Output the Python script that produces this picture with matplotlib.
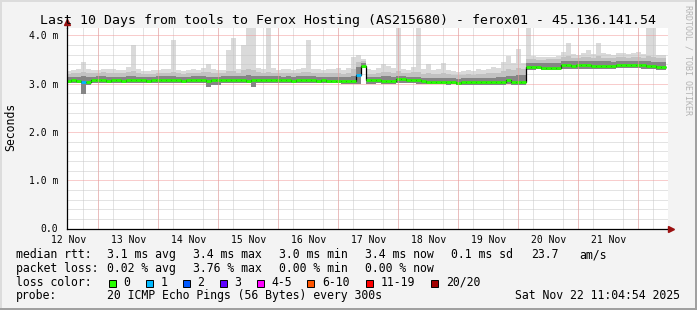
import matplotlib
matplotlib.use("Agg")
import matplotlib.pyplot as plt
from matplotlib.patches import Rectangle
import numpy as np

plt.rcParams['font.family'] = ['DejaVu Sans Mono']

# --- data: 120 bins of 2 hours, hours counted from 12 Nov 00:00 ---
t_start = 11.08
bin_hours = 2.0

# median rtt (ms)
med = [3.06, 3.07, 3.06, 3.03, 3.04, 3.07, 3.08, 3.07, 3.06, 3.07,
       3.07, 3.06, 3.07, 3.08, 3.07, 3.07, 3.06, 3.07, 3.08, 3.07,
       3.08, 3.07, 3.07, 3.06, 3.07, 3.07, 3.08, 3.07, 3.06, 3.07,
       3.07, 3.08, 3.08, 3.07, 3.08, 3.07, 3.06, 3.07, 3.08, 3.07,
       3.07, 3.07, 3.08, 3.07, 3.07, 3.06, 3.07, 3.07, 3.08, 3.07,
       3.06, 3.07, 3.06, 3.06, 3.06, 3.05, 3.05, 3.05, 3.18, 3.37,
       3.08, 3.08, 3.07, 3.06, 3.06, 3.06, 3.10, 3.10, 3.07, 3.07,
       3.07, 3.05, 3.04, 3.04, 3.04, 3.04, 3.04, 3.04, 3.01, 3.03,
       3.03, 3.03, 3.04, 3.03, 3.03, 3.03, 3.04, 3.04, 3.08, 3.04,
       3.04, 3.04, 3.34, 3.34, 3.34, 3.33, 3.33, 3.33, 3.33, 3.38,
       3.38, 3.37, 3.38, 3.38, 3.38, 3.37, 3.37, 3.37, 3.37, 3.36,
       3.39, 3.39, 3.39, 3.39, 3.39, 3.38, 3.36, 3.36, 3.35, 3.35]

# lowest ping per bin
p_min = [3.02, 3.02, 3.01, 2.78, 2.98, 3.02, 3.02, 3.02, 3.01, 3.02,
         3.02, 3.01, 3.02, 3.02, 3.02, 3.02, 3.01, 3.02, 3.02, 3.02,
         3.02, 3.02, 3.02, 3.01, 3.02, 3.02, 3.02, 3.02, 2.92, 2.97,
         2.98, 3.02, 3.02, 3.02, 3.02, 3.02, 3.01, 2.93, 3.02, 3.02,
         3.02, 3.02, 3.02, 3.02, 3.02, 3.01, 3.02, 3.02, 3.02, 3.02,
         3.01, 3.02, 3.01, 3.01, 3.01, 3.00, 3.00, 3.00, 3.00, 3.33,
         3.00, 3.00, 3.01, 3.00, 3.00, 3.00, 3.02, 3.02, 3.01, 3.01,
         3.00, 2.99, 2.99, 2.99, 2.99, 2.99, 2.98, 2.99, 2.97, 2.98,
         2.98, 2.98, 2.98, 2.98, 2.98, 2.98, 2.98, 2.98, 3.00, 2.98,
         2.97, 2.97, 3.29, 3.29, 3.30, 3.29, 3.29, 3.29, 3.29, 3.31,
         3.31, 3.31, 3.31, 3.31, 3.31, 3.31, 3.31, 3.31, 3.30, 3.30,
         3.32, 3.32, 3.32, 3.32, 3.32, 3.31, 3.30, 3.30, 3.29, 3.29]

# top of the dense smoke
p_q3 = [3.13, 3.14, 3.14, 3.15, 3.14, 3.14, 3.15, 3.15, 3.14, 3.14,
        3.14, 3.14, 3.15, 3.16, 3.14, 3.14, 3.13, 3.14, 3.15, 3.15,
        3.15, 3.16, 3.14, 3.14, 3.14, 3.15, 3.15, 3.15, 3.14, 3.14,
        3.14, 3.15, 3.16, 3.16, 3.15, 3.16, 3.17, 3.16, 3.15, 3.15,
        3.16, 3.15, 3.15, 3.14, 3.15, 3.14, 3.15, 3.15, 3.16, 3.15,
        3.14, 3.14, 3.14, 3.14, 3.14, 3.13, 3.14, 3.16, 3.35, 3.42,
        3.14, 3.14, 3.14, 3.15, 3.15, 3.14, 3.16, 3.16, 3.14, 3.14,
        3.14, 3.12, 3.12, 3.12, 3.12, 3.12, 3.12, 3.12, 3.10, 3.11,
        3.11, 3.11, 3.12, 3.11, 3.12, 3.12, 3.13, 3.13, 3.15, 3.16,
        3.17, 3.17, 3.42, 3.42, 3.42, 3.42, 3.42, 3.42, 3.43, 3.46,
        3.47, 3.46, 3.46, 3.46, 3.47, 3.46, 3.46, 3.46, 3.46, 3.45,
        3.47, 3.47, 3.47, 3.47, 3.47, 3.47, 3.46, 3.45, 3.44, 3.44]

# top of the medium smoke
p_up = [3.19, 3.21, 3.22, 3.25, 3.21, 3.21, 3.22, 3.23, 3.22, 3.21,
        3.21, 3.21, 3.23, 3.26, 3.21, 3.20, 3.19, 3.20, 3.21, 3.22,
        3.22, 3.24, 3.21, 3.20, 3.21, 3.22, 3.21, 3.23, 3.24, 3.21,
        3.21, 3.22, 3.26, 3.27, 3.22, 3.28, 3.30, 3.28, 3.23, 3.22,
        3.25, 3.22, 3.21, 3.21, 3.22, 3.21, 3.22, 3.23, 3.25, 3.22,
        3.21, 3.21, 3.22, 3.21, 3.22, 3.20, 3.22, 3.30, 3.45, 3.46,
        3.20, 3.20, 3.21, 3.24, 3.24, 3.22, 3.26, 3.22, 3.21, 3.23,
        3.24, 3.20, 3.22, 3.19, 3.20, 3.22, 3.19, 3.18, 3.17, 3.18,
        3.19, 3.18, 3.20, 3.19, 3.21, 3.22, 3.22, 3.26, 3.30, 3.28,
        3.32, 3.30, 3.50, 3.50, 3.49, 3.49, 3.50, 3.50, 3.51, 3.55,
        3.58, 3.54, 3.54, 3.55, 3.56, 3.54, 3.57, 3.54, 3.54, 3.53,
        3.55, 3.55, 3.54, 3.55, 3.56, 3.54, 3.58, 3.56, 3.53, 3.52]

# highest ping per bin
p_max = [3.27, 3.28, 3.30, 3.45, 3.30, 3.28, 3.29, 3.31, 3.31, 3.30,
         3.28, 3.29, 3.35, 3.80, 3.30, 3.27, 3.26, 3.28, 3.29, 3.31,
         3.30, 3.90, 3.28, 3.27, 3.29, 3.30, 3.28, 3.32, 3.40, 3.30,
         3.28, 3.29, 3.70, 3.94, 3.30, 3.79, 4.30, 4.30, 3.33, 3.30,
         4.30, 3.33, 3.28, 3.31, 3.30, 3.29, 3.31, 3.33, 3.90, 3.31,
         3.30, 3.29, 3.31, 3.30, 3.32, 3.29, 3.33, 3.55, 3.60, 3.50,
         3.30, 3.28, 3.32, 3.40, 3.36, 3.33, 4.30, 3.30, 3.29, 3.35,
         4.30, 3.30, 3.40, 3.28, 3.30, 3.42, 3.29, 3.27, 3.25, 3.26,
         3.28, 3.27, 3.30, 3.29, 3.31, 3.35, 3.33, 3.45, 3.58, 3.42,
         3.71, 3.42, 4.30, 3.58, 3.55, 3.56, 3.55, 3.56, 3.58, 3.66,
         3.84, 3.62, 3.60, 3.64, 3.69, 3.62, 3.84, 3.63, 3.62, 3.60,
         3.63, 3.64, 3.62, 3.63, 3.65, 3.62, 4.30, 4.30, 3.60, 3.59]

# loss class per bin (index into loss legend)
loss = [0, 0, 0, 1, 0, 0, 0, 0, 0, 0, 0, 0, 0, 0, 0, 0, 0, 0, 0, 0,
        0, 0, 0, 0, 0, 0, 0, 0, 0, 0, 0, 0, 0, 0, 0, 0, 0, 0, 0, 0,
        0, 0, 0, 0, 0, 0, 0, 0, 0, 0, 0, 0, 0, 0, 0, 0, 0, 0, 1, 0,
        0, 0, 0, 0, 0, 0, 0, 0, 0, 0, 0, 0, 0, 0, 0, 0, 0, 0, 0, 0,
        0, 0, 0, 0, 0, 0, 0, 0, 0, 0, 0, 0, 0, 0, 0, 0, 0, 0, 0, 0,
        0, 0, 0, 0, 0, 0, 0, 0, 0, 0, 0, 0, 0, 0, 0, 0, 0, 0, 0, 0]

loss_labels = ["0", "1", "2", "3", "4-5", "6-10", "11-19", "20/20"]
loss_colors = ['#26ff00', '#00b8ff', '#0059ff', '#5e00ff', '#ff00ff',
               '#ff5500', '#ff0000', '#a10000']

day_labels = ["12 Nov", "13 Nov", "14 Nov", "15 Nov", "16 Nov",
              "17 Nov", "18 Nov", "19 Nov", "20 Nov", "21 Nov"]
y_labels = ["0.0", "1.0 m", "2.0 m", "3.0 m", "4.0 m"]

title = "Last 10 Days from tools to Ferox Hosting (AS215680) - ferox01 - 45.136.141.54"
rtt_stats = ["3.1 ms avg", "3.4 ms max", "3.0 ms min", "3.4 ms now",
             "0.1 ms sd", "23.7", "am/s"]
loss_stats = ["0.02 % avg", "3.76 % max", "0.00 % min", "0.00 % now"]
probe_text = "20 ICMP Echo Pings (56 Bytes) every 300s"
stamp = "Sat Nov 22 11:04:54 2025"

# --- figure ---
W, H = 697, 310
fig = plt.figure(figsize=(W / 100, H / 100), dpi=100, facecolor='#f3f3f3')

ax_l, ax_r, ax_t, ax_b = 66.5, 667.5, 27.5, 228.5
ax = fig.add_axes([ax_l / W, 1 - ax_b / H, (ax_r - ax_l) / W, (ax_b - ax_t) / H])
ax.set_facecolor('white')

edges = t_start + bin_hours * np.arange(len(med) + 1)

# smoke
ax.stairs(p_max, edges, baseline=p_min, fill=True, color='#dadada', lw=0, zorder=2)
ax.stairs(p_up, edges, baseline=p_min, fill=True, color='#c2c2c2', lw=0, zorder=3)
ax.stairs(p_q3, edges, baseline=p_min, fill=True, color='#858585', lw=0, zorder=4)

# median line
ax.stairs(med, edges, baseline=None, color='black', lw=0.9, zorder=5)
ax.hlines(med, edges[:-1], edges[1:], colors=[loss_colors[c] for c in loss],
          lw=2.0, zorder=6)

hours_per_px = 1 / 2.5
x0 = 24 + (ax_l - 98.3) * hours_per_px
ax.set_xlim(x0, x0 + (ax_r - ax_l) * hours_per_px)
ax.set_ylim(0, (ax_b - ax_t) / 48.3)

noons = [12 + 24 * k for k in range(len(day_labels))]
ax.set_xticks(noons, day_labels)
ax.set_xticks(np.arange(12, 252, 6), minor=True)
ax.set_yticks(range(len(y_labels)), y_labels)
ax.set_yticks(np.arange(0, 4.2, 0.2), minor=True)

ax.tick_params(axis='both', which='both', length=0, labelsize=7, colors='black')
ax.tick_params(axis='x', pad=5)
ax.tick_params(axis='y', pad=6)

dots = (0, (1, 1))
ax.grid(which='minor', color='#c8c8c8', lw=0.72, linestyle=dots, zorder=7)
ax.grid(which='major', axis='y', color='#f29a9a', lw=0.72, linestyle=dots, zorder=7)
ax.grid(which='major', axis='x', visible=False)
for k in range(1, 11):
    ax.axvline(24 * k, color='#f29a9a', lw=0.72, linestyle=dots, zorder=7)
ax.set_axisbelow(False)

for s in ('top', 'right'):
    ax.spines[s].set_visible(False)
for s in ('left', 'bottom'):
    ax.spines[s].set_color('black')
    ax.spines[s].set_linewidth(0.9)
    ax.spines[s].set_zorder(8)

# axis arrows
ax.plot([0, 0], [1, 1.03], transform=ax.transAxes, color='black', lw=0.9, clip_on=False)
ax.plot([1, 1.006], [0, 0], transform=ax.transAxes, color='black', lw=0.9, clip_on=False)
ax.plot([0], [1.025], transform=ax.transAxes, marker='^', ms=4.5, color='#9b1010',
        clip_on=False, zorder=9)
ax.plot([1.0055], [0], transform=ax.transAxes, marker='>', ms=4.5, color='#9b1010',
        clip_on=False, zorder=9)


def fx(x):
    return x / W


def fy(y):
    return 1 - y / H


# texts
fig.text(fx(347.5), fy(24), title, fontsize=9.55, ha='center', va='baseline')
fig.text(fx(11), fy(127), "Seconds", fontsize=8.3, rotation=90, ha='center', va='center')
fig.text(fx(688), fy(60), "RRDTOOL / TOBI OETIKER", fontsize=6, rotation=270,
         color='#b4b4b4', ha='center', va='center')

fs = 8.3
rows = [258.3, 271.9, 285.6, 299.3]
fig.text(fx(16), fy(rows[0]), "median rtt:", fontsize=fs, va='baseline')
for txt, x in zip(rtt_stats, [107.3, 193.3, 279, 365, 451, 530.7, 579.3]):
    fig.text(fx(x), fy(rows[0]), txt, fontsize=fs, va='baseline')

fig.text(fx(16), fy(rows[1]), "packet loss:", fontsize=fs, va='baseline')
for txt, x in zip(loss_stats, [107.3, 193.3, 279, 365]):
    fig.text(fx(x), fy(rows[1]), txt, fontsize=fs, va='baseline')

fig.text(fx(16), fy(rows[2]), "loss color:", fontsize=fs, va='baseline')
box_x = [108.5, 145.5, 182.5, 219.5, 256.5, 307, 366, 431]
for lab, col, x in zip(loss_labels, loss_colors, box_x):
    fig.patches.append(Rectangle((fx(x), fy(286.5)), 7 / W, 7 / H, transform=fig.transFigure,
                                 facecolor=col, edgecolor='black', lw=0.7))
    fig.text(fx(x + 15), fy(rows[2]), lab, fontsize=fs, va='baseline')

fig.text(fx(16), fy(rows[3]), "probe:", fontsize=fs, va='baseline')
fig.text(fx(107.3), fy(rows[3]), probe_text, fontsize=fs, va='baseline')
fig.text(fx(680), fy(rows[3]), stamp, fontsize=fs, va='baseline', ha='right')

# frame
for (x, y, w, h, c) in [(0, 0, W, 2, '#dcdcdc'), (0, 0, 2, H, '#dcdcdc'),
                        (W - 2.5, 0, 2.5, H, '#a0a0a0'), (0, H - 2.5, W, 2.5, '#a0a0a0')]:
    fig.patches.append(Rectangle((fx(x), fy(y + h)), w / W, h / H,
                                 transform=fig.transFigure, facecolor=c, lw=0))

fig.savefig('out.png', dpi=100, facecolor=fig.get_facecolor())
